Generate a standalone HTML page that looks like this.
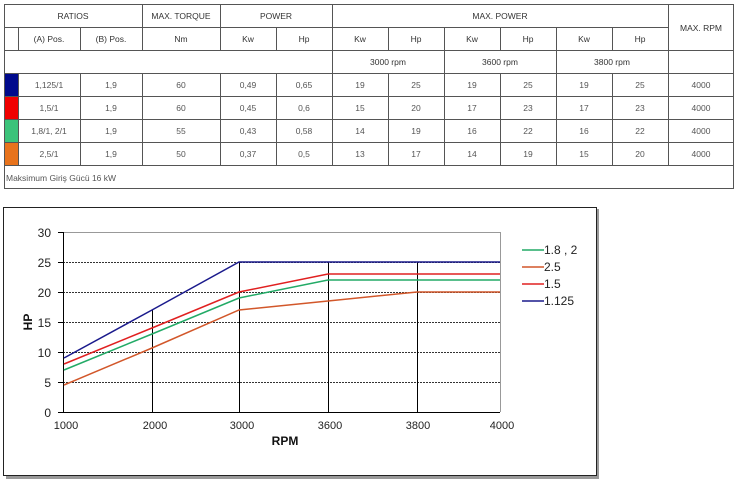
<!DOCTYPE html>
<html><head><meta charset="utf-8"><style>
html,body{margin:0;padding:0;background:#fff;width:738px;height:480px;overflow:hidden}
svg{display:block;font-family:"Liberation Sans",Arial,sans-serif}
</style></head><body>
<svg width="738" height="480" viewBox="0 0 738 480" xmlns="http://www.w3.org/2000/svg">
<g stroke="#555" stroke-width="1" fill="none" shape-rendering="crispEdges">
<rect x="4.5" y="4.5" width="729" height="184"/>
<line x1="4" y1="27.5" x2="668" y2="27.5"/>
<line x1="4" y1="50.5" x2="733" y2="50.5"/>
<line x1="4" y1="73.5" x2="733" y2="73.5"/>
<line x1="4" y1="96.5" x2="733" y2="96.5"/>
<line x1="4" y1="119.5" x2="733" y2="119.5"/>
<line x1="4" y1="142.5" x2="733" y2="142.5"/>
<line x1="4" y1="165.5" x2="733" y2="165.5"/>
<line x1="18.5" y1="27" x2="18.5" y2="50"/>
<line x1="18.5" y1="73" x2="18.5" y2="165"/>
<line x1="80.5" y1="27" x2="80.5" y2="50"/>
<line x1="80.5" y1="73" x2="80.5" y2="165"/>
<line x1="142.5" y1="4" x2="142.5" y2="50"/>
<line x1="142.5" y1="73" x2="142.5" y2="165"/>
<line x1="220.5" y1="4" x2="220.5" y2="50"/>
<line x1="220.5" y1="73" x2="220.5" y2="165"/>
<line x1="276.5" y1="27" x2="276.5" y2="50"/>
<line x1="276.5" y1="73" x2="276.5" y2="165"/>
<line x1="332.5" y1="4" x2="332.5" y2="165"/>
<line x1="388.5" y1="27" x2="388.5" y2="50"/>
<line x1="388.5" y1="73" x2="388.5" y2="165"/>
<line x1="444.5" y1="27" x2="444.5" y2="165"/>
<line x1="500.5" y1="27" x2="500.5" y2="50"/>
<line x1="500.5" y1="73" x2="500.5" y2="165"/>
<line x1="556.5" y1="27" x2="556.5" y2="165"/>
<line x1="612.5" y1="27" x2="612.5" y2="50"/>
<line x1="612.5" y1="73" x2="612.5" y2="165"/>
<line x1="668.5" y1="4" x2="668.5" y2="165"/>
</g>
<rect x="5" y="74" width="13" height="22" fill="#000a8c"/>
<rect x="5" y="97" width="13" height="22" fill="#f00000"/>
<rect x="5" y="120" width="13" height="22" fill="#3cc37a"/>
<rect x="5" y="143" width="13" height="22" fill="#e8731c"/>
<g font-size="8.5" fill="#333" text-anchor="middle">
<text x="73" y="19">RATIOS</text><text x="181" y="19">MAX. TORQUE</text><text x="276" y="19">POWER</text><text x="500" y="19">MAX. POWER</text><text x="701" y="31">MAX. RPM</text>
<text x="49" y="42">(A) Pos.</text><text x="111" y="42">(B) Pos.</text><text x="181" y="42">Nm</text><text x="248" y="42">Kw</text><text x="304" y="42">Hp</text>
<text x="360" y="42">Kw</text><text x="416" y="42">Hp</text><text x="472" y="42">Kw</text><text x="528" y="42">Hp</text><text x="584" y="42">Kw</text><text x="640" y="42">Hp</text>
<text x="388" y="65">3000 rpm</text><text x="500" y="65">3600 rpm</text><text x="612" y="65">3800 rpm</text>
</g>
<g font-size="8.5" fill="#555" text-anchor="middle">
<text x="49" y="88">1,125/1</text><text x="111" y="88">1,9</text><text x="181" y="88">60</text><text x="248" y="88">0,49</text><text x="304" y="88">0,65</text><text x="360" y="88">19</text><text x="416" y="88">25</text><text x="472" y="88">19</text><text x="528" y="88">25</text><text x="584" y="88">19</text><text x="640" y="88">25</text><text x="701" y="88">4000</text>
<text x="49" y="111">1,5/1</text><text x="111" y="111">1,9</text><text x="181" y="111">60</text><text x="248" y="111">0,45</text><text x="304" y="111">0,6</text><text x="360" y="111">15</text><text x="416" y="111">20</text><text x="472" y="111">17</text><text x="528" y="111">23</text><text x="584" y="111">17</text><text x="640" y="111">23</text><text x="701" y="111">4000</text>
<text x="49" y="134">1,8/1, 2/1</text><text x="111" y="134">1,9</text><text x="181" y="134">55</text><text x="248" y="134">0,43</text><text x="304" y="134">0,58</text><text x="360" y="134">14</text><text x="416" y="134">19</text><text x="472" y="134">16</text><text x="528" y="134">22</text><text x="584" y="134">16</text><text x="640" y="134">22</text><text x="701" y="134">4000</text>
<text x="49" y="157">2,5/1</text><text x="111" y="157">1,9</text><text x="181" y="157">50</text><text x="248" y="157">0,37</text><text x="304" y="157">0,5</text><text x="360" y="157">13</text><text x="416" y="157">17</text><text x="472" y="157">14</text><text x="528" y="157">19</text><text x="584" y="157">15</text><text x="640" y="157">20</text><text x="701" y="157">4000</text>
<text x="6" y="181" text-anchor="start">Maksimum Giriş Gücü 16 kW</text>
</g>
<!-- chart frame -->
<rect x="6" y="209" width="593" height="270" fill="#999"/>
<rect x="3.5" y="207.5" width="593" height="268" fill="#fff" stroke="#222"/>
<g shape-rendering="crispEdges" stroke-width="1">
<line x1="63" y1="232.5" x2="500" y2="232.5" stroke="#999"/>
<g stroke="#333" stroke-dasharray="2,1">
<line x1="63" y1="262.5" x2="500" y2="262.5"/><line x1="63" y1="292.5" x2="500" y2="292.5"/><line x1="63" y1="322.5" x2="500" y2="322.5"/><line x1="63" y1="352.5" x2="500" y2="352.5"/><line x1="63" y1="382.5" x2="500" y2="382.5"/>
</g>
<line x1="500.5" y1="232" x2="500.5" y2="412" stroke="#999"/>
<line x1="63.5" y1="232" x2="63.5" y2="413" stroke="#000"/>
<line x1="58" y1="412.5" x2="500" y2="412.5" stroke="#000"/>
<g stroke="#000"><line x1="58" y1="232.5" x2="63" y2="232.5"/><line x1="58" y1="262.5" x2="63" y2="262.5"/><line x1="58" y1="292.5" x2="63" y2="292.5"/><line x1="58" y1="322.5" x2="63" y2="322.5"/><line x1="58" y1="352.5" x2="63" y2="352.5"/><line x1="58" y1="382.5" x2="63" y2="382.5"/>
<line x1="152.5" y1="310" x2="152.5" y2="412"/><line x1="239.5" y1="262" x2="239.5" y2="412"/><line x1="328.5" y1="262" x2="328.5" y2="412"/><line x1="417.5" y1="262" x2="417.5" y2="412"/></g>
</g>
<g fill="none" stroke-width="1.5">
<polyline stroke="#d2572a" points="64,385 152,348 239,310 328,301 417,292 500,292"/>
<polyline stroke="#22aa66" points="64,370 152,334 239,298 328,280 417,280 500,280"/>
<polyline stroke="#e02020" points="64,364 152,328 239,292 328,274 417,274 500,274"/>
<polyline stroke="#1a1a8c" points="64,358 152,310 239,262 328,262 417,262 500,262"/>
</g>
<g font-size="12" fill="#222" text-anchor="end">
<text x="51" y="237">30</text><text x="51" y="267">25</text><text x="51" y="297">20</text><text x="51" y="327">15</text><text x="51" y="357">10</text><text x="51" y="387">5</text><text x="51" y="417">0</text>
</g>
<g font-size="11" fill="#222" text-anchor="middle">
<text x="66" y="429">1000</text><text x="155" y="429">2000</text><text x="242" y="429">3000</text><text x="330" y="429">3600</text><text x="418" y="429">3800</text><text x="502" y="429">4000</text>
</g>
<text x="285" y="445" font-size="12" font-weight="bold" text-anchor="middle" fill="#111">RPM</text>
<text transform="translate(32,322) rotate(-90)" font-size="12" font-weight="bold" text-anchor="middle" fill="#111">HP</text>
<g stroke-width="1.5">
<line x1="522" y1="250" x2="544" y2="250" stroke="#22aa66"/>
<line x1="522" y1="267" x2="544" y2="267" stroke="#d2572a"/>
<line x1="522" y1="284" x2="544" y2="284" stroke="#e02020"/>
<line x1="522" y1="301" x2="544" y2="301" stroke="#1a1a8c"/>
</g>
<g font-size="12" fill="#222">
<text x="544" y="254">1.8 , 2</text><text x="544" y="271">2.5</text><text x="544" y="288">1.5</text><text x="544" y="305">1.125</text>
</g>
</svg>
</body></html>
